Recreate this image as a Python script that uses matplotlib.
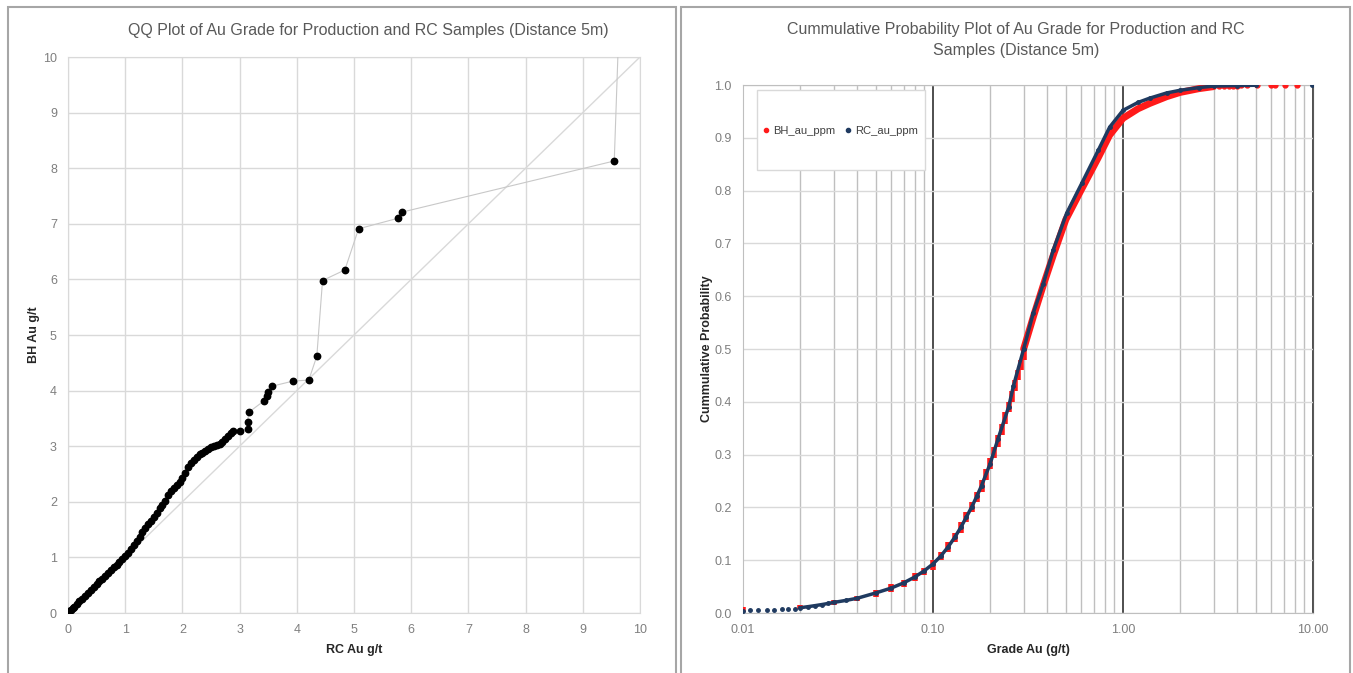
import numpy as np
import matplotlib
matplotlib.use('Agg')
import matplotlib.pyplot as plt
from matplotlib.patches import Rectangle

plt.rcParams['font.family'] = ['Liberation Sans', 'DejaVu Sans']

# QQ plot data (RC vs BH, g/t)
qq_rc = [0.00, 0.02, 0.05, 0.08, 0.10, 0.15, 0.20, 0.25, 0.30, 0.35, 0.40, 0.45, 0.50,
         0.55, 0.60, 0.65, 0.70, 0.75, 0.80, 0.85, 0.90, 0.95, 1.00, 1.05, 1.10, 1.15,
         1.20, 1.25, 1.30, 1.35, 1.40, 1.45, 1.50, 1.55, 1.60, 1.65, 1.70, 1.75, 1.80,
         1.85, 1.90, 1.95, 2.00, 2.05, 2.10, 2.15, 2.20, 2.25, 2.30, 2.35, 2.40, 2.45,
         2.50, 2.55, 2.60, 2.65, 2.70, 2.75, 2.80, 2.85, 2.89,
         3.01, 3.14, 3.14, 3.16, 3.42, 3.48, 3.50, 3.57, 3.93, 4.21, 4.35, 4.45,
         4.84, 5.08, 5.77, 5.84, 9.55, 9.68]
qq_bh = [0.00, 0.03, 0.06, 0.09, 0.11, 0.16, 0.21, 0.26, 0.31, 0.36, 0.42, 0.47, 0.52,
         0.57, 0.62, 0.67, 0.72, 0.77, 0.82, 0.87, 0.92, 0.97, 1.02, 1.08, 1.15, 1.22,
         1.30, 1.37, 1.45, 1.52, 1.60, 1.66, 1.72, 1.80, 1.88, 1.95, 2.02, 2.12, 2.20,
         2.25, 2.31, 2.36, 2.43, 2.52, 2.62, 2.69, 2.75, 2.81, 2.86, 2.88, 2.91, 2.95,
         2.98, 3.01, 3.03, 3.04, 3.08, 3.13, 3.19, 3.24, 3.27,
         3.27, 3.31, 3.44, 3.61, 3.81, 3.90, 3.98, 4.08, 4.17, 4.19, 4.62, 5.98,
         6.17, 6.91, 7.10, 7.21, 8.13, 12.0]

# cumulative probability data
bh_grade = [0.01, 0.02, 0.03, 0.04, 0.05, 0.06, 0.07, 0.08, 0.09, 0.10,
            0.11, 0.12, 0.13, 0.14, 0.15, 0.16, 0.17, 0.18, 0.19, 0.20,
            0.21, 0.22, 0.23, 0.24, 0.25, 0.26, 0.27, 0.28, 0.29, 0.30]
bh_lo = [0.002, 0.008, 0.015, 0.022, 0.031, 0.040, 0.050, 0.061, 0.072, 0.082,
         0.100, 0.116, 0.135, 0.151, 0.173, 0.192, 0.211, 0.230, 0.252, 0.272,
         0.293, 0.315, 0.337, 0.358, 0.380, 0.400, 0.421, 0.441, 0.460, 0.480]
bh_hi = [0.012, 0.016, 0.025, 0.033, 0.044, 0.054, 0.063, 0.076, 0.085, 0.100,
         0.116, 0.135, 0.151, 0.173, 0.192, 0.211, 0.230, 0.252, 0.272, 0.293,
         0.315, 0.337, 0.358, 0.380, 0.400, 0.421, 0.441, 0.460, 0.480, 0.500]
bh_grade_up = [0.30, 0.34, 0.38, 0.43, 0.50, 0.60, 0.74, 0.85, 1.00, 1.20, 1.38,
               1.70, 2.00, 2.50, 3.00]
bh_cum_up = [0.500, 0.565, 0.620, 0.678, 0.745, 0.800, 0.862, 0.905, 0.937, 0.955,
             0.965, 0.978, 0.986, 0.993, 0.997]
bh_tail_grade = [3.2, 3.4, 3.6, 3.8, 4.0, 4.2, 4.5, 5.1, 6.0, 6.3, 7.1, 8.2]
bh_tail_cum = [0.9975, 0.998, 0.9985, 0.9988, 0.999, 0.9992, 0.9994, 0.9995,
               0.9996, 0.9997, 0.9998, 0.9999]

rc_grade = [0.0100, 0.0109, 0.0120, 0.0133, 0.0146, 0.0160, 0.0173, 0.0188, 0.020,
            0.022, 0.024, 0.026, 0.028, 0.030, 0.035, 0.040, 0.050, 0.060, 0.070,
            0.080, 0.090, 0.100, 0.110, 0.120, 0.130, 0.140, 0.150, 0.160, 0.170,
            0.180, 0.200, 0.220, 0.250, 0.265, 0.300, 0.337, 0.381, 0.430, 0.505,
            0.607, 0.740, 0.850, 1.000, 1.200, 1.380, 1.700, 2.000, 2.500, 3.000,
            4.000, 5.000, 9.900]
rc_cum = [0.004, 0.005, 0.005, 0.006, 0.006, 0.007, 0.007, 0.008, 0.010,
          0.012, 0.014, 0.016, 0.018, 0.020, 0.024, 0.028, 0.038, 0.047, 0.057,
          0.068, 0.080, 0.093, 0.108, 0.125, 0.143, 0.162, 0.182, 0.201, 0.221,
          0.241, 0.283, 0.330, 0.390, 0.430, 0.500, 0.568, 0.624, 0.688, 0.757,
          0.814, 0.876, 0.920, 0.952, 0.967, 0.975, 0.985, 0.990, 0.995, 0.998,
          0.999, 0.9995, 1.000]

W, H = 1353, 673
fig = plt.figure(figsize=(W / 100, H / 100), dpi=100)

# chart frames
for x0, x1 in [(8, 676), (681, 1350)]:
    fig.patches.append(Rectangle((x0 / W, -0.01), (x1 - x0) / W, (H - 7) / H + 0.01,
                                 transform=fig.transFigure, fill=False,
                                 edgecolor='#a6a6a6', lw=1.5))

tick_col = '#7f7f7f'
title_col = '#595959'
grid_col = '#d9d9d9'

# ---- QQ plot ----
ax1 = fig.add_axes([68 / W, (H - 613) / H, 572 / W, 556 / H])
ax1.plot([0, 10], [0, 10], color=grid_col, lw=1, zorder=2)
ax1.plot(qq_rc, qq_bh, color='#c8c8c8', lw=0.8, zorder=3)
ax1.plot(qq_rc, qq_bh, 'o', color='black', ms=4.6, zorder=4)
ax1.set_xlim(0, 10)
ax1.set_ylim(0, 10)
ax1.set_xticks(range(11))
ax1.set_yticks(range(11))
ax1.grid(True, color=grid_col, lw=1)
ax1.set_axisbelow(True)
for s in ax1.spines.values():
    s.set_color(grid_col)
ax1.tick_params(length=0, labelsize=9, colors=tick_col, pad=8)
ax1.set_xlabel('RC Au g/t', fontsize=9, fontweight='bold', color='#262626', labelpad=6)
ax1.set_ylabel('BH Au g/t', fontsize=9, fontweight='bold', color='#262626', labelpad=2)
fig.text(368 / W, 1 - 31 / H, 'QQ Plot of Au Grade for Production and RC Samples (Distance 5m)',
         ha='center', va='center', fontsize=11.5, color=title_col)

# ---- cumulative probability plot ----
ax2 = fig.add_axes([743 / W, (H - 613) / H, 570 / W, 528 / H])
ax2.set_xscale('log')
ax2.set_xlim(0.01, 10)
ax2.set_ylim(0, 1)
ax2.set_yticks(np.arange(0, 1.01, 0.1))
ax2.set_yticklabels(['%.1f' % v for v in np.arange(0, 1.01, 0.1)])
ax2.set_xticks([0.01, 0.1, 1, 10])
ax2.set_xticklabels(['0.01', '0.10', '1.00', '10.00'])
ax2.xaxis.set_minor_formatter(matplotlib.ticker.NullFormatter())
ax2.grid(True, which='minor', axis='x', color='#bfbfbf', lw=1)
ax2.grid(True, which='major', axis='x', color='#404040', lw=1.3)
ax2.grid(True, which='major', axis='y', color=grid_col, lw=1)
ax2.set_axisbelow(True)
for s in ax2.spines.values():
    s.set_color('#bfbfbf')
ax2.spines['right'].set_color('#595959')
ax2.tick_params(which='both', length=0, labelsize=9, colors=tick_col, pad=8)

red = '#ff1a1a'
navy = '#1f3a60'
ax2.vlines(bh_grade, bh_lo, bh_hi, color=red, lw=4, zorder=3)
ax2.plot(bh_grade_up, bh_cum_up, color=red, lw=5, solid_capstyle='round', zorder=3)
ax2.plot(bh_tail_grade, bh_tail_cum, 'o', color=red, ms=3.5, zorder=3)
ax2.plot(rc_grade[8:-1], rc_cum[8:-1], color=navy, lw=2.5, zorder=4)
ax2.plot(rc_grade, rc_cum, 'o', color=navy, ms=2.5, zorder=4)

# legend box (drawn as a patch so its size matches the Excel one)
ax2.add_patch(Rectangle((14 / 570, (613 - 170) / 528), 168 / 570, 80 / 528,
                        transform=ax2.transAxes, facecolor='white',
                        edgecolor=grid_col, lw=1, zorder=5))
ax2.plot([], [], 'o', color=red, ms=3, label='BH_au_ppm')
ax2.plot([], [], 'o', color=navy, ms=3, label='RC_au_ppm')
leg = ax2.legend(loc='center', bbox_to_anchor=(98 / 570, (613 - 131) / 528), ncol=2,
                 fontsize=8, frameon=False, handlelength=0.4, handletextpad=0.5,
                 columnspacing=0.9, borderpad=0, borderaxespad=0)
leg.set_zorder(6)
for t in leg.get_texts():
    t.set_color('#404040')

ax2.set_xlabel('Grade Au (g/t)', fontsize=9, fontweight='bold', color='#262626', labelpad=6)
ax2.set_ylabel('Cummulative Probability', fontsize=9, fontweight='bold', color='#262626', labelpad=1)
fig.text(1016 / W, 1 - 40 / H,
         'Cummulative Probability Plot of Au Grade for Production and RC\nSamples (Distance 5m)',
         ha='center', va='center', fontsize=11.5, color=title_col, linespacing=1.5)

fig.savefig('out.png', dpi=100)
